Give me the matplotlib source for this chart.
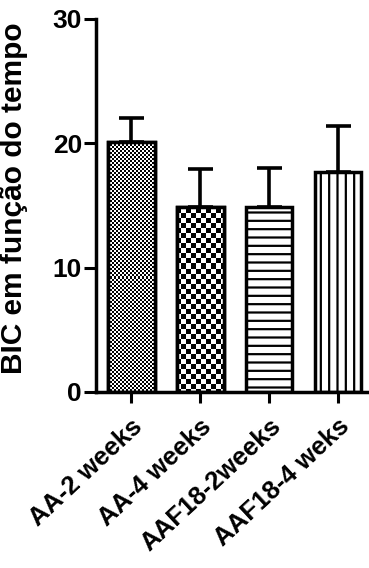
import matplotlib
matplotlib.use("Agg")
from matplotlib import pyplot as plt
import numpy as np

# 字体
plt.rcParams['font.family'] = ['Liberation Sans', 'DejaVu Sans']
plt.rcParams['font.weight'] = 'bold'
plt.rcParams['hatch.linewidth'] = 1.6

groups = ["AA-2 weeks", "AA-4 weeks", "AAF18-2weeks", "AAF18-4 weks"]
means = [20.1, 14.9, 14.9, 17.7]
errs = [1.9, 3.0, 3.1, 3.7]
hatches = [None, None, "--", "||"]
checker_cell = [2, 5, None, None]   # 棋盘格大小(像素)

fig = plt.figure(figsize=(3.69, 5.68), dpi=100)
ax = fig.add_axes([0.26, 0.31, 0.74, 0.657])

x = range(len(groups))
bars = ax.bar(list(x), means, width=0.68, color="white", edgecolor="black",
              linewidth=2.5, zorder=2)
for i, b in enumerate(bars):
    if hatches[i]:
        b.set_hatch(hatches[i])

# 棋盘格填充
ny, nx = 373, 273
jj, ii = np.meshgrid(np.arange(nx), np.arange(ny))
for i, b in enumerate(bars):
    c = checker_cell[i]
    if c is None:
        continue
    pat = ((ii // c + jj // c) % 2).astype(float)
    im = ax.imshow(pat, cmap="gray", vmin=0, vmax=1, extent=[0, 1, 0, 1],
                   transform=ax.transAxes, interpolation="nearest",
                   aspect="auto", zorder=2.5)
    im.set_clip_path(b)
    outline = plt.Rectangle(b.get_xy(), b.get_width(), b.get_height(),
                            fill=False, edgecolor="black", linewidth=2.5, zorder=3)
    ax.add_patch(outline)

ax.errorbar(list(x), means, yerr=[[0] * len(errs), errs], fmt="none",
            ecolor="black", elinewidth=2.6, capsize=9, capthick=2.6, zorder=1)

ax.set_xlim(-0.51, 3.45)
ax.set_ylim(0, 30)
ax.set_yticks([0, 10, 20, 30])
ax.set_xticks(list(x))
ax.set_xticklabels(groups, rotation=43, ha="right", rotation_mode="anchor",
                   fontsize=18.5, fontweight="bold")
ax.tick_params(axis="y", labelsize=19, width=2.2, length=9, pad=1)
ax.tick_params(axis="x", width=2.2, length=8, pad=8)
for lbl in ax.get_yticklabels():
    lbl.set_fontweight("bold")

ax.spines["top"].set_visible(False)
ax.spines["right"].set_visible(False)
ax.spines["left"].set_linewidth(2.5)
ax.spines["bottom"].set_linewidth(2.5)

ax.set_ylabel("BIC em função do tempo", fontsize=21.5, fontweight="bold")
ax.yaxis.set_label_coords(-0.25, 0.52)

fig.savefig("out.png", dpi=100)
